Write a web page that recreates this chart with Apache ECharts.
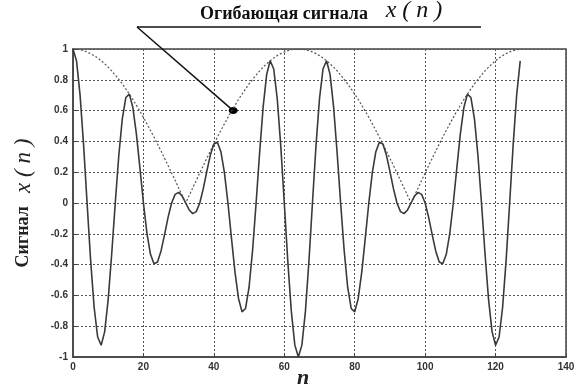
<!DOCTYPE html>
<html>
<head>
<meta charset="utf-8">
<script src="https://cdn.jsdelivr.net/npm/echarts@6/dist/echarts.min.js"></script>
<style>
html,body{margin:0;padding:0;background:#fff;}
#chart{width:581px;height:389px;}
</style>
</head>
<body>
<div id="chart"></div>
<script>
// ---- data ----
const xTicks = [0, 20, 40, 60, 80, 100, 120, 140];
const yTicks = [-1, -0.8, -0.6, -0.4, -0.2, 0, 0.2, 0.4, 0.6, 0.8, 1];

// sample index n = 0..127
const signal = [
  1, 0.923, 0.704, 0.379, 0, -0.371, -0.677, -0.870, -0.924, -0.835, -0.624, -0.328, 0, 0.307, 0.547, 0.685,
  0.707, 0.620, 0.449, 0.228, 0, -0.197, -0.333, -0.395, -0.383, -0.311, -0.205, -0.093, 0, 0.056, 0.069, 0.045,
  0, -0.045, -0.069, -0.056, 0, 0.093, 0.205, 0.311, 0.383, 0.395, 0.333, 0.197, 0, -0.228, -0.449, -0.620,
  -0.707, -0.685, -0.547, -0.307, 0, 0.328, 0.624, 0.835, 0.924, 0.870, 0.677, 0.371, 0, -0.379, -0.704, -0.923,
  -1, -0.923, -0.704, -0.379, 0, 0.371, 0.677, 0.870, 0.924, 0.835, 0.624, 0.328, 0, -0.307, -0.547, -0.685,
  -0.707, -0.620, -0.449, -0.228, 0, 0.197, 0.333, 0.395, 0.383, 0.311, 0.205, 0.093, 0, -0.056, -0.069, -0.045,
  0, 0.045, 0.069, 0.056, 0, -0.093, -0.205, -0.311, -0.383, -0.395, -0.333, -0.197, 0, 0.228, 0.449, 0.620,
  0.707, 0.685, 0.547, 0.307, 0, -0.328, -0.624, -0.835, -0.924, -0.870, -0.677, -0.371, 0, 0.379, 0.704, 0.923
];

const envelope = [
  1, 0.999, 0.995, 0.989, 0.981, 0.970, 0.957, 0.942, 0.924, 0.904, 0.882, 0.858, 0.831, 0.803, 0.773, 0.741,
  0.707, 0.672, 0.634, 0.596, 0.556, 0.514, 0.471, 0.428, 0.383, 0.337, 0.290, 0.243, 0.195, 0.147, 0.098, 0.049,
  0, 0.049, 0.098, 0.147, 0.195, 0.243, 0.290, 0.337, 0.383, 0.428, 0.471, 0.514, 0.556, 0.596, 0.634, 0.672,
  0.707, 0.741, 0.773, 0.803, 0.831, 0.858, 0.882, 0.904, 0.924, 0.942, 0.957, 0.970, 0.981, 0.989, 0.995, 0.999,
  1, 0.999, 0.995, 0.989, 0.981, 0.970, 0.957, 0.942, 0.924, 0.904, 0.882, 0.858, 0.831, 0.803, 0.773, 0.741,
  0.707, 0.672, 0.634, 0.596, 0.556, 0.514, 0.471, 0.428, 0.383, 0.337, 0.290, 0.243, 0.195, 0.147, 0.098, 0.049,
  0, 0.049, 0.098, 0.147, 0.195, 0.243, 0.290, 0.337, 0.383, 0.428, 0.471, 0.514, 0.556, 0.596, 0.634, 0.672,
  0.707, 0.741, 0.773, 0.803, 0.831, 0.858, 0.882, 0.904, 0.924, 0.942, 0.957, 0.970, 0.981, 0.989, 0.995, 0.999
];

// annotation anchor on the envelope (data coords)
const annotPoint = [45.5, 0.6];
const annotTitle = 'Огибающая сигнала';
const yName = 'Сигнал';
const varName = 'x ( n )';
const xName = 'n';

// ---- chart ----
const chart = echarts.init(document.getElementById('chart'), null, {renderer: 'canvas'});
const sigData = signal.map((v, i) => [i, v]);
const envData = envelope.map((v, i) => [i, v]);

const axisLabelStyle = {color: '#333', fontFamily: 'Liberation Sans', fontWeight: 'bold', fontSize: 10};
const gridLineStyle = {color: '#555', type: [2, 2], width: 1};

chart.setOption({
  animation: false,
  backgroundColor: '#fff',
  grid: {left: 73, right: 15, top: 49, bottom: 32, containLabel: false, outerBoundsMode: 'none',
         show: true, borderColor: '#444', borderWidth: 1.5, backgroundColor: 'transparent'},
  xAxis: {
    type: 'value', min: xTicks[0], max: xTicks[xTicks.length - 1], interval: xTicks[1] - xTicks[0],
    axisLine: {show: true, onZero: false, lineStyle: {color: '#444', width: 1.5}},
    axisTick: {show: true, inside: true, length: 4, lineStyle: {color: '#444'}},
    axisLabel: Object.assign({margin: 5}, axisLabelStyle),
    splitLine: {show: true, lineStyle: gridLineStyle},
    name: xName, nameLocation: 'middle', nameGap: 10, nameMoveOverlap: false,
    nameTextStyle: {fontFamily: 'Liberation Serif', fontStyle: 'italic', fontWeight: 'bold', fontSize: 22, color: '#222', padding: [0, 33, 0, 0]}
  },
  yAxis: {
    type: 'value', min: yTicks[0], max: yTicks[yTicks.length - 1], interval: 0.2,
    axisLine: {show: true, onZero: false, lineStyle: {color: '#444', width: 1.5}},
    axisTick: {show: true, inside: true, length: 4, lineStyle: {color: '#444'}},
    axisLabel: Object.assign({margin: 5}, axisLabelStyle),
    splitLine: {show: true, lineStyle: gridLineStyle},
    name: '{a|' + yName + '}{s|   }{b|' + varName + '}',
    nameLocation: 'middle', nameRotate: 90, nameGap: 38, nameMoveOverlap: false,
    nameTextStyle: {
      rich: {
        a: {fontFamily: 'Liberation Serif', fontWeight: 'bold', fontSize: 18, color: '#222'},
        s: {fontSize: 16},
        b: {fontFamily: 'Liberation Serif', fontStyle: 'italic', fontSize: 23, color: '#222'}
      }
    }
  },
  series: [
    {
      type: 'line', name: 'signal', data: sigData, showSymbol: false,
      lineStyle: {color: '#3a3a3a', width: 1.6}, z: 3
    },
    {
      type: 'line', name: 'envelope', data: envData, showSymbol: false,
      lineStyle: {color: '#555', width: 1.2, type: [2, 2]}, z: 2
    }
  ]
});

function drawAnnotation() {
  const p = chart.convertToPixel({seriesIndex: 1}, annotPoint);
  const lineY = 27, lineX0 = 137, lineX1 = 481;
  chart.setOption({
    graphic: [
      {type: 'line', shape: {x1: lineX0, y1: lineY, x2: lineX1, y2: lineY}, style: {stroke: '#111', lineWidth: 1.5}},
      {type: 'line', shape: {x1: lineX0, y1: lineY, x2: p[0], y2: p[1]}, style: {stroke: '#111', lineWidth: 1.5}},
      {type: 'ellipse', shape: {cx: p[0], cy: p[1], rx: 4.5, ry: 3.5}, style: {fill: '#000'}},
      {
        type: 'text', left: 200, top: -1,
        style: {
          text: '{a|' + annotTitle + '}{s|    }{b|' + varName + '}',
          rich: {
            a: {fontFamily: 'Liberation Serif', fontWeight: 'bold', fontSize: 18, fill: '#111', verticalAlign: 'bottom'},
            s: {fontSize: 16},
            b: {fontFamily: 'Liberation Serif', fontStyle: 'italic', fontSize: 24, fill: '#111', verticalAlign: 'bottom'}
          }
        }
      }
    ]
  });
}
drawAnnotation();
</script>
</body>
</html>
